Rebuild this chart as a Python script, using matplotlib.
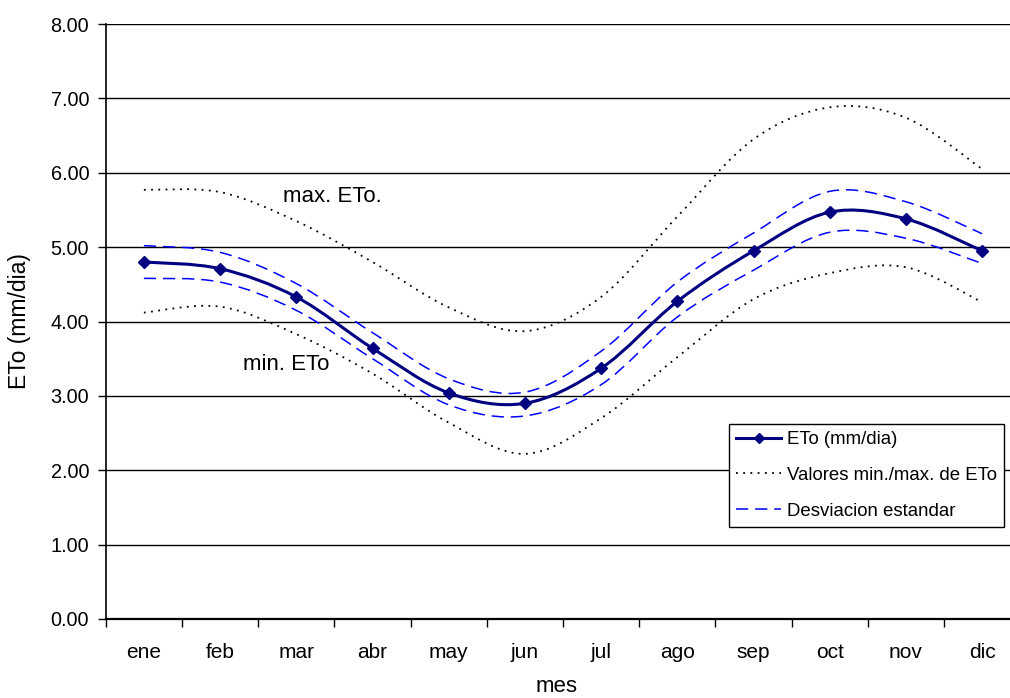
import numpy as np
import matplotlib
matplotlib.use("Agg")
import matplotlib.pyplot as plt
from matplotlib.path import Path
from matplotlib.patches import PathPatch
from matplotlib.lines import Line2D

plt.rcParams['font.family'] = ['Liberation Sans', 'DejaVu Sans']

# datos
meses = ['ene', 'feb', 'mar', 'abr', 'may', 'jun', 'jul', 'ago', 'sep', 'oct', 'nov', 'dic']
eto = [4.80, 4.71, 4.33, 3.64, 3.04, 2.90, 3.37, 4.27, 4.95, 5.47, 5.38, 4.95]
eto_max = [5.77, 5.74, 5.35, 4.80, 4.19, 3.87, 4.33, 5.41, 6.45, 6.88, 6.74, 6.05]
eto_min = [4.12, 4.20, 3.83, 3.30, 2.64, 2.22, 2.70, 3.52, 4.30, 4.65, 4.73, 4.26]
desv_sup = [5.02, 4.93, 4.51, 3.85, 3.23, 3.05, 3.60, 4.53, 5.19, 5.75, 5.61, 5.18]
desv_inf = [4.58, 4.53, 4.15, 3.50, 2.88, 2.73, 3.15, 4.06, 4.69, 5.20, 5.12, 4.78]


def curva_suave(xs, ys):
    # trazo suavizado tipo Excel (bezier cubica estilo Catmull-Rom)
    p = np.column_stack([xs, ys])
    n = len(p)
    verts = [p[0]]
    codes = [Path.MOVETO]
    for i in range(n - 1):
        p0 = p[i - 1] if i > 0 else p[i]
        p3 = p[i + 2] if i + 2 < n else p[i + 1]
        c1 = p[i] + (p[i + 1] - p0) / 6.0
        c2 = p[i + 1] - (p3 - p[i]) / 6.0
        verts += [c1, c2, p[i + 1]]
        codes += [Path.CURVE4] * 3
    return Path(verts, codes)


fig = plt.figure(figsize=(10.10, 6.98), dpi=100)
ax = fig.add_axes([105.8 / 1010, 79 / 698, 914.4 / 1010, 595 / 698])

x = np.arange(len(meses)) + 0.5

punteado = (0, (1, 3))
rayado = (0, (8, 4.5))
estilos = [
    (eto_max, dict(color='black', lw=1.3, linestyle=punteado)),
    (eto_min, dict(color='black', lw=1.3, linestyle=punteado)),
    (desv_sup, dict(color='#0000FF', lw=1.1, linestyle=rayado)),
    (desv_inf, dict(color='#0000FF', lw=1.1, linestyle=rayado)),
    (eto, dict(color='#000080', lw=2.2, linestyle='-')),
]
for ys, st in estilos:
    patch = PathPatch(curva_suave(x, ys), facecolor='none', edgecolor=st['color'],
                      lw=st['lw'], linestyle=st['linestyle'], zorder=3, capstyle='butt')
    ax.add_patch(patch)

ax.plot(x, eto, linestyle='none', marker='D', markersize=6, color='#000080', zorder=4)

ax.set_xlim(0, 12)
ax.set_ylim(0, 8)
ax.set_yticks(np.arange(0, 9, 1))
ax.set_yticklabels(['%.2f' % v for v in np.arange(0, 9, 1)], fontsize=14.3)
ax.set_xticks(np.arange(0, 13))
ax.set_xticklabels([])
ax.set_xticks(x, minor=True)
ax.set_xticklabels(meses, minor=True, fontsize=15)
ax.tick_params(axis='x', which='minor', length=0, pad=17)
ax.tick_params(axis='x', which='major', length=6, width=1, direction='out')
ax.tick_params(axis='y', length=6, width=1, direction='out', pad=6)

ax.grid(axis='y', color='black', lw=1, zorder=1)
ax.set_axisbelow(True)
for s in ['top', 'right']:
    ax.spines[s].set_visible(False)
ax.spines['left'].set_linewidth(1.2)
ax.spines['bottom'].set_linewidth(1.6)

ax.set_ylabel('ETo (mm/dia)', fontsize=16.5)
ax.yaxis.set_label_coords(-86 / 914.4, 0.5)
ax.set_xlabel('mes', fontsize=16)
ax.xaxis.set_label_coords((557 - 105.8) / 914.4, -68 / 595)
ax.xaxis.label.set_va('center')
ax.yaxis.label.set_va('center')

fig.text(283 / 1010, 1 - 196 / 698, 'max. ETo.', fontsize=16, va='center')
fig.text(243 / 1010, 1 - 365 / 698, 'min. ETo', fontsize=16, va='center')

handles = [
    Line2D([], [], color='#000080', lw=2.2, marker='D', markersize=5),
    Line2D([], [], color='black', lw=1.3, linestyle=punteado),
    Line2D([], [], color='#0000FF', lw=1.1, linestyle=rayado),
]
etiquetas = ['ETo (mm/dia)', 'Valores min./max. de ETo', 'Desviacion estandar']
leg = fig.legend(handles, etiquetas, loc='lower left',
                 bbox_to_anchor=(729 / 1010, 1 - 527 / 698), bbox_transform=fig.transFigure,
                 fontsize=13.4, frameon=True, fancybox=False, framealpha=1,
                 edgecolor='black', handlelength=2.4, handletextpad=0.3,
                 labelspacing=1.0, borderpad=0.4, borderaxespad=0)
leg.get_frame().set_linewidth(1)

fig.savefig('out.png', dpi=100)
